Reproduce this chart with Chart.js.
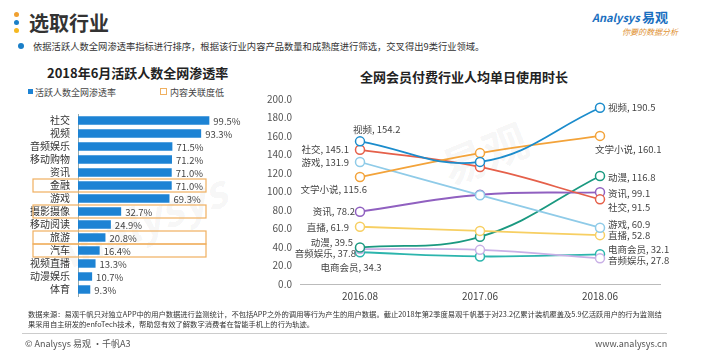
<!DOCTYPE html>
<html>
<head>
<meta charset="utf-8">
<script src="https://cdn.jsdelivr.net/npm/chart.js@4.4.1/dist/chart.umd.min.js"></script>
<style>
  body { margin: 0; width: 728px; height: 351px; background: #fff; position: relative; overflow: hidden;
         font-family: "Noto Sans CJK SC", "Noto Sans", sans-serif; color: #333; }
  .abs { position: absolute; white-space: nowrap; }
  .dot { position: absolute; width: 5px; height: 5px; border-radius: 50%; }
  canvas { position: absolute; }
</style>
</head>
<body>

<!-- header -->
<div class="dot" style="left:14px;top:12px;background:#f0a030"></div>
<div class="dot" style="left:14px;top:20px;background:#1a7fc8"></div>
<div class="dot" style="left:14px;top:28px;background:#f5b820"></div>
<div class="abs" style="left:29px;top:8px;font-size:20px;font-weight:bold;color:#333">选取行业</div>
<div class="dot" style="left:18px;top:43px;width:6px;height:6px;background:#1a7fc8"></div>
<div class="abs" style="left:33px;top:39px;font-size:9.3px;color:#333">依据活跃人数全网渗透率指标进行排序，根据该行业内容产品数量和成熟度进行筛选，交叉得出9类行业领域。</div>

<div class="abs" style="left:592px;top:7px;font-size:11px;font-style:italic;color:#1a6fc0;font-weight:bold">Analysys <span style="font-style:normal;font-size:13px">易观</span></div>
<div class="abs" style="left:622px;top:26px;font-size:8px;font-style:italic;color:#e09030">你要的数据分析</div>

<!-- watermark -->
<div class="abs" style="left:40px;top:190px;font-size:44px;font-weight:bold;font-style:italic;color:rgba(0,0,0,0.05);transform:rotate(-22deg)">Analysys</div>
<div class="abs" style="left:440px;top:120px;font-size:44px;font-weight:bold;color:rgba(0,0,0,0.05);transform:rotate(-22deg)">易观</div>

<!-- left chart heading -->
<div class="abs" style="left:47px;top:63px;font-size:13px;font-weight:bold;color:#222">2018年6月活跃人数全网渗透率</div>
<div class="abs" style="left:28px;top:89px;width:5px;height:5px;background:#1d83d4"></div>
<div class="abs" style="left:35px;top:86px;font-size:9px;color:#444">活跃人数全网渗透率</div>
<div class="abs" style="left:160px;top:88px;width:5px;height:5px;border:1px solid #f0b060"></div>
<div class="abs" style="left:170px;top:86px;font-size:9px;color:#444">内容关联度低</div>

<canvas id="bar-chart" width="240" height="210" style="left:20px;top:100px"></canvas>

<!-- right chart heading -->
<div class="abs" style="left:360px;top:67px;font-size:13px;font-weight:bold;color:#222">全网会员付费行业人均单日使用时长</div>

<canvas id="line-chart" width="440" height="220" style="left:260px;top:85px"></canvas>

<!-- footer -->
<div class="abs" style="left:28px;top:309px;font-size:7.3px;color:#333;line-height:10px">数据来源：易观千帆只对独立APP中的用户数据进行监测统计，不包括APP之外的调用等行为产生的用户数据。截止2018年第2季度易观千帆基于对23.2亿累计装机覆盖及5.9亿活跃用户的行为监测结<br>果采用自主研发的enfoTech技术，帮助您有效了解数字消费者在智能手机上的行为轨迹。</div>
<div class="abs" style="left:22px;top:333px;width:645px;height:1px;background:#ccc"></div>
<div class="abs" style="left:25px;top:337px;font-size:9px;color:#555">© Analysys 易观 ·千帆A3</div>
<div class="abs" style="left:595px;top:337px;font-size:9px;color:#555">www.analysys.cn</div>

<script>
// ---------------------------------------- | Data

const industries = ["社交", "视频", "音频娱乐", "移动购物", "资讯", "金融", "游戏",
  "摄影摄像", "移动阅读", "旅游", "汽车", "视频直播", "动漫娱乐", "体育"]
const penetration = [99.5, 93.3, 71.5, 71.2, 71.0, 71.0, 69.3, 32.7, 24.9, 20.8, 16.4, 13.3, 10.7, 9.3]
const lowRelevance = ["金融", "摄影摄像", "旅游", "汽车"]

const periods = ["2016.08", "2017.06", "2018.06"]
const memberIndustries = ["视频", "文学小说", "社交", "游戏", "资讯", "直播", "动漫", "音频娱乐", "电商会员"]
const usageVideo   = [154.2, 132.0, 190.5]
const usageNovel   = [115.6, 141.5, 160.1]
const usageSocial  = [145.1, 126.5, 91.5]
const usageGame    = [131.9, 96.0, 60.9]
const usageNews    = [78.2, 96.5, 99.1]
const usageLive    = [61.9, 57.4, 52.8]
const usageAnime   = [39.5, 51.0, 116.8]
const usageAudio   = [37.8, 36.9, 27.8]
const usageShop    = [34.3, 29.8, 32.1]
const yTicks = [0, 20, 40, 60, 80, 100, 120, 140, 160, 180, 200]

const FONT = "'Noto Sans CJK SC', 'Noto Sans', sans-serif"
Chart.defaults.font.family = FONT
Chart.defaults.animation = false

// ---------------------------------------- | Bar Chart

const highlightBoxes = {
  id: "highlightBoxes",
  afterDatasetsDraw(chart) {
    const { ctx, scales: { y }, chartArea } = chart
    const step = y.getPixelForValue(1) - y.getPixelForValue(0)
    ctx.save()
    ctx.strokeStyle = "#f0b060"
    ctx.lineWidth = 1.2
    lowRelevance.forEach(name => {
      const cy = y.getPixelForValue(industries.indexOf(name))
      ctx.strokeRect(13, cy - step / 2, chartArea.left + 128 - 13, step)
    })
    ctx.restore()
  }
}

const barLabels = {
  id: "barLabels",
  afterDatasetsDraw(chart) {
    const { ctx } = chart
    ctx.save()
    ctx.font = "9.5px " + FONT
    ctx.fillStyle = "#444"
    ctx.textBaseline = "middle"
    chart.getDatasetMeta(0).data.forEach((bar, i) => {
      ctx.fillText(penetration[i].toFixed(1) + "%", bar.x + 4, bar.y + 0.5)
    })
    ctx.restore()
  }
}

new Chart(document.getElementById("bar-chart"), {
  type: "bar",
  data: {
    labels: industries,
    datasets: [{
      label: "活跃人数全网渗透率",
      data: penetration,
      backgroundColor: "#1d83d4",
      barPercentage: 1,
      categoryPercentage: 0.65
    }]
  },
  options: {
    indexAxis: "y",
    responsive: false,
    layout: { padding: { left: 0, right: 50, top: 10, bottom: 8 } },
    plugins: { legend: { display: false }, tooltip: { enabled: false } },
    scales: {
      x: { display: false, min: 0, max: 100 },
      y: {
        grid: { display: false, drawTicks: false },
        border: { display: true, color: "#9aa", width: 1 },
        ticks: { color: "#333", font: { size: 10 }, padding: 8, autoSkip: false },
        afterFit: s => { s.width = 58 }
      }
    }
  },
  plugins: [highlightBoxes, barLabels]
})

// ---------------------------------------- | Line Chart

const lineColors = ["#1b8ccc", "#f3a33a", "#e5604a", "#8fcbe8", "#9060c0", "#f7cf62", "#1a9980", "#c9b0e6", "#2cb5ad"]
const lineSeries = [usageVideo, usageNovel, usageSocial, usageGame, usageNews, usageLive, usageAnime, usageAudio, usageShop]

// label offsets [dx, dy, align] for first and last point
const labelPlacement = [
  [[-7, -12, "left"], [8, 0, "left"]],
  [[7, 12, "right"], [-5, 13.5, "left"]],
  [[-11, 0, "right"], [8, 8, "left"]],
  [[-11, 0, "right"], [8, -3, "left"]],
  [[-5, 0, "right"], [8, 1, "left"]],
  [[-11, 1, "right"], [8, 0, "left"]],
  [[-7, -5, "right"], [8, 1, "left"]],
  [[-4, 4, "right"], [8, 2, "left"]],
  [[-9, 15, "center"], [8, -5, "left"]]
]

const pointLabels = {
  id: "pointLabels",
  afterDatasetsDraw(chart) {
    const { ctx } = chart
    ctx.save()
    ctx.font = "9.5px " + FONT
    ctx.fillStyle = "#444"
    ctx.textBaseline = "middle"
    chart.data.datasets.forEach((ds, di) => {
      const pts = chart.getDatasetMeta(di).data
      ;[0, pts.length - 1].forEach((pi, k) => {
        const [dx, dy, align] = labelPlacement[di][k]
        ctx.textAlign = align
        ctx.fillText(ds.label + ", " + ds.data[pi].toFixed(1), pts[pi].x + dx, pts[pi].y + dy)
      })
    })
    ctx.restore()
  }
}

new Chart(document.getElementById("line-chart"), {
  type: "line",
  data: {
    labels: periods,
    datasets: memberIndustries.map((name, i) => ({
      label: name,
      data: lineSeries[i],
      borderColor: lineColors[i],
      backgroundColor: "#fff",
      pointBackgroundColor: "#fff",
      pointBorderColor: lineColors[i],
      pointBorderWidth: 1.5,
      pointRadius: 4.5,
      borderWidth: 1.8,
      tension: 0.4,
      fill: false
    }))
  },
  options: {
    responsive: false,
    layout: { padding: { left: 0, right: 40, top: 10, bottom: 0 } },
    plugins: { legend: { display: false }, tooltip: { enabled: false } },
    scales: {
      x: {
        offset: true,
        grid: { display: false, drawTicks: false },
        border: { display: true, color: "#bbb", width: 1 },
        ticks: { color: "#444", font: { size: 10 }, padding: 6 },
        afterFit: s => { s.height = 21 }
      },
      y: {
        min: 0,
        max: 200,
        grid: { display: false, drawTicks: false },
        border: { display: false },
        afterBuildTicks: s => { s.ticks = yTicks.map(v => ({ value: v })) },
        ticks: { color: "#555", font: { size: 10 }, padding: 8, callback: v => v.toFixed(1) },
        afterFit: s => { s.width = 40 }
      }
    }
  },
  plugins: [pointLabels]
})
</script>
</body>
</html>
